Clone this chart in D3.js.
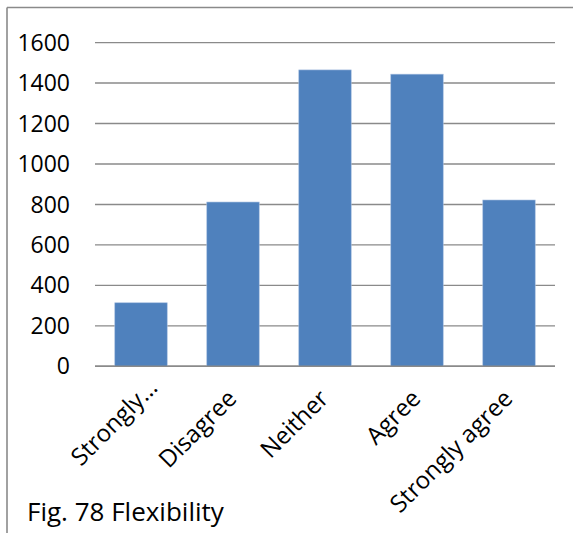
<!DOCTYPE html>
<html>
<head>
<meta charset="utf-8">
<script src="https://cdn.jsdelivr.net/npm/d3@7"></script>
<style>
  html, body { margin: 0; padding: 0; background: #fff; }
  svg { display: block; }
  text { font-family: "Open Sans", sans-serif; fill: #000; }
</style>
</head>
<body>
<svg id="chart" width="573" height="533"></svg>
<script>
const categories = ["Strongly…", "Disagree", "Neither", "Agree", "Strongly agree"];
const values = [314, 812, 1465, 1444, 822];
const yTicks = [0, 200, 400, 600, 800, 1000, 1200, 1400, 1600];
const title = "Fig. 78 Flexibility";

const svg = d3.select("#chart");
const W = 573, H = 533;

// outer frame (left and top visible)
svg.append("line").attr("x1", 7).attr("x2", 7).attr("y1", 7.5).attr("y2", H)
  .attr("stroke", "#8a8a8a").attr("stroke-width", 1.6);
svg.append("line").attr("x1", 7).attr("x2", W).attr("y1", 7.5).attr("y2", 7.5)
  .attr("stroke", "#8a8a8a").attr("stroke-width", 1.6);

const plot = { left: 95, right: 555, top: 42.6, bottom: 366.3 };

const x = d3.scaleBand().domain(categories).range([plot.left, plot.right])
  .paddingInner(0.43).paddingOuter(0.215);
const y = d3.scaleLinear().domain([0, 1600]).range([plot.bottom, plot.top]);

// gridlines
svg.append("g").selectAll("line").data(yTicks).join("line")
  .attr("x1", plot.left).attr("x2", plot.right)
  .attr("y1", d => y(d)).attr("y2", d => y(d))
  .attr("stroke", "#8a8a8a").attr("stroke-width", 1.4);

// bars
svg.append("g").selectAll("rect").data(values).join("rect")
  .attr("x", (d, i) => x(categories[i]))
  .attr("width", x.bandwidth())
  .attr("y", d => y(d))
  .attr("height", d => y(0) - y(d))
  .attr("fill", "#4f81bd")
  .attr("stroke", "#a9c0e0").attr("stroke-width", 0.6);

// axis line at 0
svg.append("line").attr("x1", plot.left).attr("x2", plot.right)
  .attr("y1", y(0)).attr("y2", y(0))
  .attr("stroke", "#8a8a8a").attr("stroke-width", 1.4);

// y tick labels
svg.append("g").selectAll("text").data(yTicks).join("text")
  .attr("x", 70).attr("y", d => y(d))
  .attr("dy", "0.35em")
  .attr("text-anchor", "end")
  .attr("font-size", 23)
  .text(d => d);

// category labels rotated
svg.append("g").selectAll("text").data(categories).join("text")
  .attr("transform", d => {
    const cx = x(d) + x.bandwidth() / 2;
    const trunc = d.endsWith("…");
    const px = cx + (trunc ? 18 : 5);
    const py = trunc ? 389 : 400;
    return `translate(${px},${py}) rotate(-45)`;
  })
  .attr("text-anchor", "end")
  .attr("font-size", 24)
  .text(d => d);

// title
svg.append("text").attr("x", 27).attr("y", 521)
  .attr("font-size", 26)
  .text(title);
</script>
</body>
</html>
